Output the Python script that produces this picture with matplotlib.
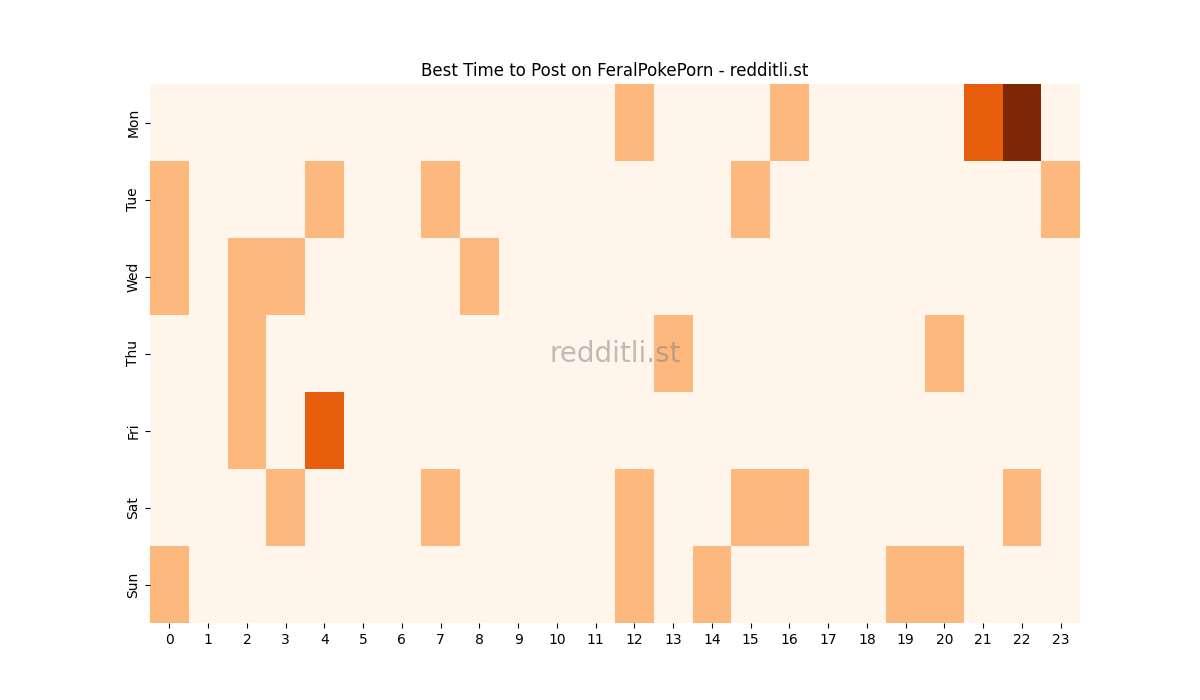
import numpy as np
import matplotlib
matplotlib.use("Agg")
import matplotlib.pyplot as plt
import seaborn as sns

days = ["Mon", "Tue", "Wed", "Thu", "Fri", "Sat", "Sun"]
hours = list(range(24))

# posts per (day, hour) cell
mon = {12: 1, 16: 1, 21: 2, 22: 3}
tue = {0: 1, 4: 1, 7: 1, 15: 1, 23: 1}
wed = {0: 1, 2: 1, 3: 1, 8: 1}
thu = {2: 1, 13: 1, 20: 1}
fri = {2: 1, 4: 2}
sat = {3: 1, 7: 1, 12: 1, 15: 1, 16: 1, 22: 1}
sun = {0: 1, 12: 1, 14: 1, 19: 1, 20: 1}

rows = [mon, tue, wed, thu, fri, sat, sun]
data = np.array([[r.get(h, 0) for h in hours] for r in rows])

fig = plt.figure(figsize=(12, 7))
ax = fig.add_subplot(111)
sns.heatmap(data, cmap="Oranges", cbar=False, ax=ax,
            xticklabels=hours, yticklabels=days)
ax.set_yticklabels(days, rotation=90, va="center")
ax.set_title("Best Time to Post on FeralPokePorn - redditli.st")
ax.text(0.5, 0.5, "redditli.st", transform=ax.transAxes, fontsize=20,
        color="grey", alpha=0.5, ha="center", va="center")

plt.savefig("out.png", dpi=100)
